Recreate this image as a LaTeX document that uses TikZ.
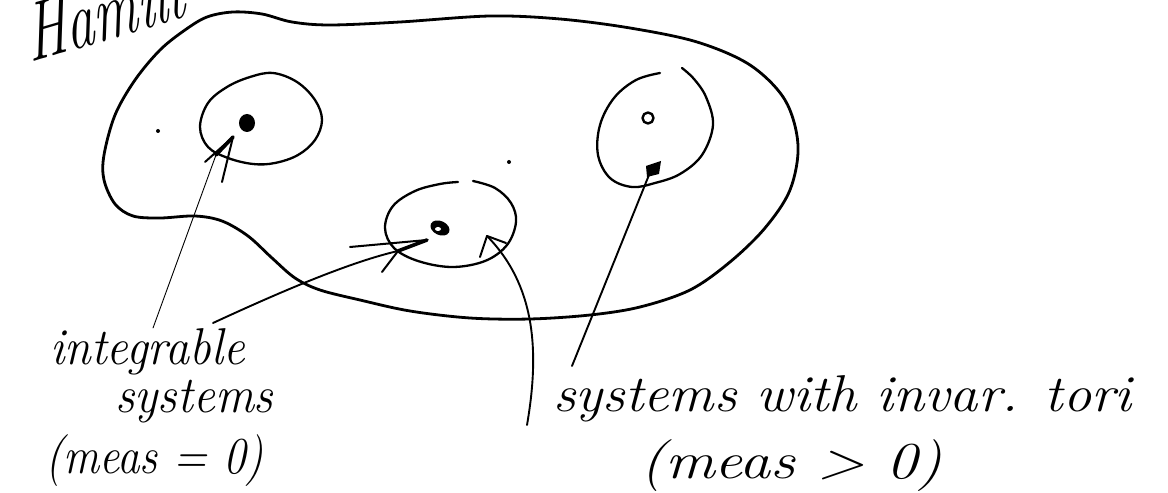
\documentclass[tikz,border=0pt]{standalone}
\usetikzlibrary{arrows.meta}
\begin{document}
\begin{tikzpicture}[x=1bp,y=-1bp, line cap=round, line join=round,
  outline/.style={line width=2.8bp},
  ring/.style={line width=2.3bp},
  shaft/.style={line width=1.9bp},
  thinshaft/.style={line width=0.9bp},
  barb/.style={line width=2bp},
  dart/.style={line width=3.6bp},
  hand/.style={font=\fontsize{52}{56}\selectfont\itshape, inner sep=0pt, anchor=base west}]
\useasboundingbox (0,0) rectangle (1168,493);

% outer region
\draw[outline] plot[smooth cycle, tension=0.55] coordinates {
 (207,17) (233,12) (262,14) (292,22) (330,25) (400,22) (490,16) (560,19) (630,28)
 (697,42) (750,65) (785,100) (798,145) (790,190) (765,228) (730,262) (690,290)
 (640,307) (590,315) (530,319) (470,318) (410,311) (360,300) (320,290) (295,278)
 (272,258) (248,236) (222,221) (195,216) (160,218) (133,216) (115,204) (104,180)
 (104,155) (115,115) (135,80) (160,50) (185,30)};

% left small region
\draw[ring] plot[smooth cycle, tension=0.6] coordinates {
 (200,127) (208,103) (227,87) (250,77) (273,73) (297,82) (315,100) (322,120)
 (315,140) (298,155) (275,163) (253,164) (228,158) (208,147)};
% middle small region (gap at top)
\draw[ring] plot[smooth, tension=0.6] coordinates {
 (473,181) (495,188) (511,203) (516,222) (507,245) (485,261) (452,267) (418,261)
 (394,248) (385,228) (393,206) (415,191) (440,184) (458,182)};
% right small region (gap at top)
\draw[ring] plot[smooth, tension=0.6] coordinates {
 (660,73) (636,80) (614,98) (600,125) (598,155) (610,178) (632,187) (655,183)
 (680,174) (702,155) (713,125) (706,97) (694,79) (682,68)};

% points
\fill (247,123) ellipse [x radius=8bp, y radius=9bp];
\fill[rotate around={-25:(440,228)}] (440,228) ellipse [x radius=10bp, y radius=7bp];
\fill[white] (438,229) ellipse [x radius=3bp, y radius=2bp];
\draw[line width=2.4bp] (648,118) circle [radius=5.5bp];
\fill (158,131) circle [radius=2bp];
\fill (509,162) circle [radius=2bp];

% texts
\node[hand, font=\fontsize{84}{84}\selectfont\itshape, xscale=0.66, rotate=11] (ham) at (30,63) {Hamilt};
\node[hand, xscale=0.93] (int1) at (50,365) {integrable};
\node[hand, xscale=0.94] (int2) at (115,412) {systems};
\node[hand, xscale=0.87] (int3) at (45,473) {(meas = 0)};
\node[hand, xscale=1.09] (tor1) at (553,411) {systems with invar. tori};
\node[hand, xscale=1.2] (tor2) at (640,478) {(meas > 0)};

% arrow to left region
\coordinate (tipL) at (233,137);
\coordinate (jL) at (216,155);
\coordinate (sL) at (153,328);
\draw[thinshaft] (sL) -- (jL);
\draw[dart] (jL) -- (tipL);
\draw[barb] (tipL) -- (205,162);
\draw[barb] (tipL) -- (222,182);

% arrow to middle region from integrable systems
\coordinate (tipA) at (427,240);
\coordinate (jA) at (398,251);
\coordinate (sA) at (213,323);
\draw[shaft] (sA) .. controls (280,292) and (350,262) .. (jA);
\draw[dart] (jA) -- (tipA);
\draw[barb] (tipA) -- (350,247);
\draw[barb] (jA) -- (382,272);

% curved arrow to middle region from right label
\coordinate (tipB) at (487,236);
\coordinate (sB) at (527,425);
\draw[shaft] (sB) .. controls (540,350) and (535,285) .. (tipB);
\draw[barb] (tipB) -- (506,243);
\draw[barb] (tipB) -- (480,257);

% arrow to right region
\coordinate (tipR) at (651,170);
\coordinate (sR) at (572,366);
\draw[shaft] (sR) -- (tipR);
\fill (646,166) -- (661,161) -- (659,174) -- (647,177) -- cycle;
\end{tikzpicture}
\end{document}
